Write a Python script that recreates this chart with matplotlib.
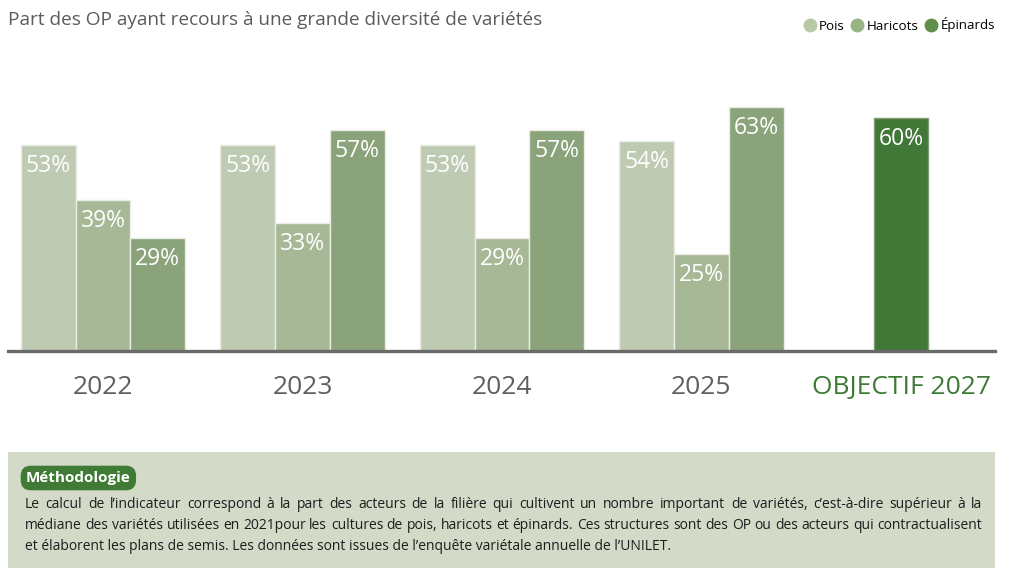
import matplotlib
matplotlib.use('Agg')
import matplotlib.pyplot as plt
from matplotlib.patches import Rectangle
from matplotlib.lines import Line2D

# ---------------- data ----------------
years = ['2022', '2023', '2024', '2025']
series = ['Pois', 'Haricots', 'Épinards']
pois = [53, 53, 53, 54]
haricots = [39, 33, 29, 25]
epinards = [29, 57, 57, 63]
objective_label = 'OBJECTIF 2027'
objective_value = 60

title = 'Part des OP ayant recours à une grande diversité de variétés'
method_title = 'Méthodologie'
method_lines = [
    "Le calcul de l\u2019indicateur correspond à la part des acteurs de la filière qui cultivent un nombre important de variétés, c\u2019est-à-dire supérieur à la",
    "médiane des variétés utilisées en 2021pour les cultures de pois, haricots et épinards. Ces structures sont des OP ou des acteurs qui contractualisent",
    "et élaborent les plans de semis. Les données sont issues de l\u2019enquête variétale annuelle de l\u2019UNILET.",
]

# ---------------- style ----------------
bar_colors = ['#bfcab3', '#a6b895', '#8aa37a']
legend_colors = ['#b7c9a5', '#98b384', '#5f8f4a']
objective_color = '#427837'
edge_color = '#e9ede3'
FONT = ['Open Sans', 'DejaVu Sans']
plt.rcParams['font.family'] = FONT

W, H = 1022, 570
fig = plt.figure(figsize=(W / 100, H / 100), dpi=100)


def px(x0, y0, x1, y1):
    return [x0 / W, 1 - y1 / H, (x1 - x0) / W, (y1 - y0) / H]


# overlay axes in pixel coordinates for decorations
oax = fig.add_axes([0, 0, 1, 1], zorder=0)
oax.set_xlim(0, W)
oax.set_ylim(H, 0)
oax.axis('off')

ax = fig.add_axes(px(8, 50, 995, 351), zorder=1)
ax.patch.set_alpha(0)
pitch = 199.5
ax.set_xlim((8 - 103) / pitch, (995 - 103) / pitch)
ax.set_ylim(0, 301 / 3.88)
w = 54.8 / pitch

all_series = [pois, haricots, epinards]
for j, (vals, col) in enumerate(zip(all_series, bar_colors)):
    xs = [i + (j - 1) * w for i in range(len(years))]
    ax.bar(xs, vals, w, color=col, edgecolor=edge_color, linewidth=1.0, zorder=2)
    for x, v in zip(xs, vals):
        ax.annotate(f'{v}%', (x, v), xytext=(0, -21), textcoords='offset pixels',
                    ha='center', va='center', color='white', fontsize=16.5, zorder=3)

xo = len(years)
ax.bar([xo], [objective_value], w, color=objective_color, edgecolor='#7f9d70',
       linewidth=1.0, zorder=2)
ax.annotate(f'{objective_value}%', (xo, objective_value), xytext=(0, -21),
            textcoords='offset pixels', ha='center', va='center', color='white',
            fontsize=16.5, zorder=3)

for s in ['top', 'left', 'right']:
    ax.spines[s].set_visible(False)
ax.spines['bottom'].set_color('#6a6a6a')
ax.spines['bottom'].set_linewidth(2.4)
ax.spines['bottom'].set_zorder(4)
ax.set_yticks([])
ax.set_xticks(list(range(len(years) + 1)))
ax.set_xticklabels(years + [objective_label], fontsize=19, color='#5f5f5f')
ax.tick_params(axis='x', length=0, pad=17)
ax.get_xticklabels()[-1].set_color('#3d7a35')

# title
fig.text(8 / W, 1 - 20 / H, title, ha='left', va='center', fontsize=13.7,
         color='#5b5b5b')

# legend
handles = [Line2D([], [], marker='o', linestyle='none', markersize=9,
                  markerfacecolor=c, markeredgecolor=c) for c in legend_colors]
fig.legend(handles, series, loc='center right', bbox_to_anchor=(995 / W, 1 - 25 / H),
           ncol=3, frameon=False, fontsize=9.6, handletextpad=0.2,
           columnspacing=0.45, handlelength=1.0, borderaxespad=0, borderpad=0)

# methodology box
oax.add_patch(Rectangle((8, 452), 987, 116, facecolor='#d3dac8', edgecolor='none'))
oax.text(26, 478, method_title, ha='left', va='center', fontsize=11,
         fontweight='bold', color='white',
         bbox=dict(boxstyle='round,pad=0.28,rounding_size=0.6', fc='#3f7b35', ec='#3f7b35', lw=1.5))

renderer = fig.canvas.get_renderer()
fs = 10.0
left, right = 25, 982
baselines = [508, 529, 550]
for k, (line, yb) in enumerate(zip(method_lines, baselines)):
    words = line.split(' ')
    if k == len(method_lines) - 1:
        oax.text(left, yb, line, ha='left', va='baseline', fontsize=fs, color='#1e1e1e')
        continue
    arts = [oax.text(0, yb, wd, ha='left', va='baseline', fontsize=fs, color='#1e1e1e')
            for wd in words]
    widths = [a.get_window_extent(renderer).width for a in arts]
    gap = (right - left - sum(widths)) / (len(words) - 1)
    x = left
    for a, wd in zip(arts, widths):
        a.set_x(x)
        x += wd + gap

fig.savefig('out.png', dpi=100)
